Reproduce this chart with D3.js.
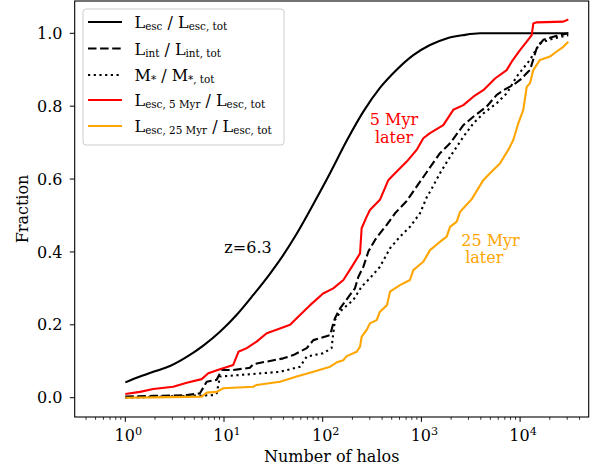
<!DOCTYPE html>
<html><head><meta charset="utf-8">
<script src="https://cdn.jsdelivr.net/npm/d3@7"></script>
<style>body{margin:0;background:#fff}svg{display:block}text{font-family:"DejaVu Serif",serif}</style>
</head><body><svg id="c" width="599" height="471"></svg>
<script>
// ---- data ----
const escN = [1,1.41,1.92,2.84,4.19,6.17,9.1,13.4,19.8,29.2,36.9,54.5,86.9,118.6,175,258,380,562,828,1222,1803,2660,3925,30800];
const escF = [0.042,0.058,0.071,0.087,0.112,0.143,0.181,0.227,0.282,0.340,0.378,0.450,0.548,0.616,0.705,0.785,0.850,0.900,0.940,0.968,0.986,0.995,1.0,1.0];

const intN = [1,1.92,4.19,5.71,6.68,8.43,9.48,12.4,18.3,19.8,39.9,50.4,68.9,80.4,119,128,133,150,189,212,230,258,290,339,380,445,540,710,1222,1543,1950,2661,3357,4590,5794,7311,8531,9977,12110,12590,14720,17180,23490,30760];
const intF = [0.003,0.005,0.007,0.012,0.044,0.049,0.076,0.076,0.082,0.092,0.108,0.117,0.136,0.158,0.172,0.204,0.218,0.245,0.282,0.300,0.332,0.359,0.401,0.433,0.451,0.474,0.506,0.540,0.632,0.671,0.698,0.748,0.771,0.799,0.831,0.849,0.858,0.872,0.895,0.899,0.959,0.982,0.993,1.0];

const mstN = [1,7.79,8.43,9.10,36.9,58.9,68.9,101,123,128,133,156,204,248,301,380,481,607,766,968,1132,1222,1543,1950,2661,3357,4236,5794,7311,9240,10770,12590,15890,21690,30760];
const mstF = [0.0,0.007,0.012,0.058,0.071,0.085,0.113,0.122,0.136,0.177,0.213,0.241,0.268,0.305,0.328,0.359,0.410,0.442,0.469,0.506,0.550,0.565,0.616,0.661,0.716,0.753,0.780,0.808,0.835,0.881,0.904,0.927,0.973,0.986,0.995];

const e5N = [1,1.41,1.92,3.06,4.19,5.94,6.93,9.10,12.4,14.0,17.0,21.4,27.1,36.9,46.7,58.9,74.5,101,128,162,197,239,248,279,301,380,462,519,710,895,1045,1222,1667,2104,2661,3357,4236,5572,7311,8222,9977,11670,13120,13610,14720,27420,30760];
const e5F = [0.010,0.016,0.024,0.030,0.041,0.051,0.067,0.078,0.090,0.126,0.136,0.154,0.177,0.190,0.200,0.227,0.254,0.286,0.300,0.323,0.359,0.396,0.465,0.497,0.515,0.543,0.597,0.611,0.648,0.680,0.712,0.726,0.748,0.790,0.803,0.826,0.844,0.876,0.899,0.922,0.954,0.977,0.995,1.027,1.030,1.032,1.038];

const e25N = [1,1.92,5.94,6.68,8.43,9.84,19.8,21.4,36.9,54.5,80.4,119,139,162,175,221,239,248,279,301,352,380,448,481,607,766,828,1045,1222,1483,1803,1950,2280,2466,2661,3236,4236,4955,6250,7590,8531,9590,10770,11670,12590,13610,15890,20090,23490,27420,30760];
const e25F = [0.0,0.001,0.003,0.014,0.016,0.026,0.030,0.035,0.044,0.058,0.071,0.085,0.097,0.103,0.114,0.126,0.140,0.167,0.186,0.204,0.213,0.236,0.254,0.291,0.309,0.323,0.350,0.373,0.405,0.424,0.442,0.469,0.483,0.510,0.520,0.545,0.597,0.616,0.643,0.680,0.707,0.753,0.790,0.853,0.863,0.899,0.927,0.936,0.950,0.963,0.977];

const yTicks = [0.0,0.2,0.4,0.6,0.8,1.0];
const xTicks = [1,10,100,1000,10000];
const xTickExp = ["0","1","2","3","4"];

// ---- layout ----
const svg = d3.select("#c");
const L = 74.7, R = 588.7, T = 1, B = 417;
const x = d3.scaleLog().domain([1,1e4]).range([125.3,520.1]);
const y = d3.scaleLinear().domain([0,1]).range([397.7,33.3]);
const FS = 16, SUB = 10.4;

svg.append("clipPath").attr("id","clip").append("rect")
  .attr("x",L).attr("y",T).attr("width",R-L).attr("height",B-T);

const g = svg.append("g");
const minors = [];
for (let e=-1;e<=4;e++) for (let m=2;m<=9;m++){ const v=m*Math.pow(10,e); const px=x(v); if(px>=L-0.01 && px<=R+0.01) minors.push(v); }
g.selectAll(".mn").data(minors).enter().append("line")
  .attr("x1",d=>x(d)).attr("x2",d=>x(d)).attr("y1",B).attr("y2",B+2.8)
  .attr("stroke","#000").attr("stroke-width",0.8);
g.selectAll(".mj").data(xTicks).enter().append("line")
  .attr("x1",d=>x(d)).attr("x2",d=>x(d)).attr("y1",B).attr("y2",B+4.9)
  .attr("stroke","#000").attr("stroke-width",1);
const xl = g.selectAll(".xl").data(xTicks).enter().append("text")
  .attr("x",d=>x(d)+3).attr("y",440.8).attr("text-anchor","middle")
  .attr("font-size",FS).attr("fill","#000");
xl.append("tspan").text("10");
xl.append("tspan").attr("font-size",11.2).attr("dy",-6).text((d,i)=>xTickExp[i]);

g.selectAll(".yt").data(yTicks).enter().append("line")
  .attr("x1",L-4.9).attr("x2",L).attr("y1",d=>y(d)).attr("y2",d=>y(d))
  .attr("stroke","#000").attr("stroke-width",1);
g.selectAll(".yl").data(yTicks).enter().append("text")
  .attr("x",62.5).attr("y",d=>y(d)+5.6).attr("text-anchor","end")
  .attr("font-size",FS).attr("fill","#000").text(d=>d.toFixed(1));

svg.append("text").attr("x",(L+R)/2).attr("y",462).attr("text-anchor","middle")
  .attr("font-size",FS).text("Number of halos");
svg.append("text").attr("transform",`translate(27.5,${(T+B)/2}) rotate(-90)`)
  .attr("text-anchor","middle").attr("font-size",FS).text("Fraction");

// curves
const plot = svg.append("g").attr("clip-path","url(#clip)");
const series = [
  {n:escN, f:escF, c:"#000", dash:null, curve:d3.curveMonotoneX},
  {n:intN, f:intF, c:"#000", dash:"8.5,3.6", curve:d3.curveLinear},
  {n:mstN, f:mstF, c:"#000", dash:"2.2,3.5", curve:d3.curveLinear},
  {n:e5N, f:e5F, c:"#ff0000", dash:null, curve:d3.curveLinear},
  {n:e25N, f:e25F, c:"#ffa500", dash:null, curve:d3.curveLinear}
];
series.forEach(s=>{
  const pts = s.n.map((v,i)=>[v,s.f[i]]);
  const line = d3.line().x(d=>x(d[0])).y(d=>y(d[1])).curve(s.curve);
  plot.append("path").attr("d",line(pts)).attr("fill","none")
    .attr("stroke",s.c).attr("stroke-width",2.1)
    .attr("stroke-dasharray",s.dash).attr("stroke-linejoin","round");
});

// spines
svg.append("rect").attr("x",L).attr("y",T).attr("width",R-L).attr("height",B-T)
  .attr("fill","none").attr("stroke","#000").attr("stroke-width",1.1);

// annotations
function ann(txt,cx,by,col){ svg.append("text").attr("x",cx).attr("y",by).attr("text-anchor","middle").attr("font-size",FS).attr("fill",col).text(txt); }
ann("5 Myr",394,125,"#ff0000");
ann("later",394,142.5,"#ff0000");
ann("25 Myr",490.5,245.7,"#ffa500");
ann("later",484.3,263.3,"#ffa500");
ann("z=6.3",248,252.7,"#000");

// legend
const lg = svg.append("g");
lg.append("rect").attr("x",83).attr("y",9).attr("width",201).attr("height",136)
  .attr("rx",3).attr("fill","#fff").attr("fill-opacity",0.8).attr("stroke","#cccccc").attr("stroke-width",1);
const legend = [
  {c:"#000", dash:null, parts:[["L",0],["esc",1],[" / L",0],["esc, tot",1]]},
  {c:"#000", dash:"8.5,3.6", parts:[["L",0],["int",1],[" / L",0],["int, tot",1]]},
  {c:"#000", dash:"2.2,3.5", parts:[["M",0],["*",1],[" / M",0],["*, tot",1]]},
  {c:"#ff0000", dash:null, parts:[["L",0],["esc, 5 Myr",1],[" / L",0],["esc, tot",1]]},
  {c:"#ffa500", dash:null, parts:[["L",0],["esc, 25 Myr",1],[" / L",0],["esc, tot",1]]}
];
const legY = [22, 48.5, 75, 100, 126];
legend.forEach((e,i)=>{
  const ly = legY[i];
  lg.append("line").attr("x1",88).attr("x2",122).attr("y1",ly).attr("y2",ly)
    .attr("stroke",e.c).attr("stroke-width",2.1).attr("stroke-dasharray",e.dash);
  const t = lg.append("text").attr("x",134.5).attr("y",ly+6.3).attr("font-size",FS).attr("fill","#000");
  let prevSub = 0;
  e.parts.forEach(p=>{
    const ts = t.append("tspan").text(p[0]);
    if (p[1]) { ts.attr("font-size",SUB).attr("dy", prevSub?0:1.8); }
    else { ts.attr("dy", prevSub?-1.8:0); }
    prevSub = p[1];
  });
});
</script></body></html>
